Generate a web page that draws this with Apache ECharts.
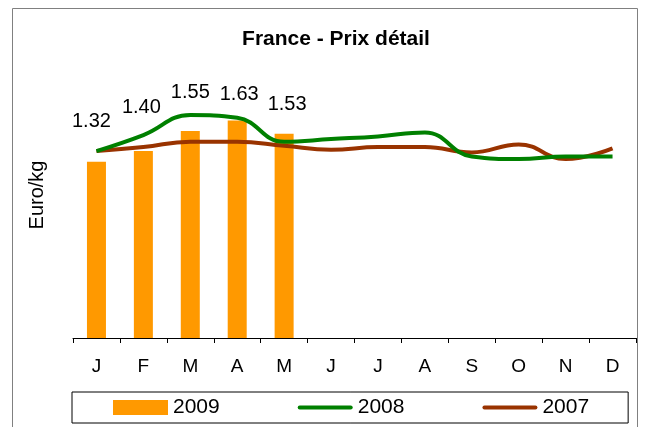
<!DOCTYPE html>
<html>
<head>
<meta charset="utf-8">
<script src="https://cdn.jsdelivr.net/npm/echarts@6/dist/echarts.min.js"></script>
<style>
  html, body { margin: 0; padding: 0; background: #fff; }
  #chart { width: 646px; height: 427px; }
</style>
</head>
<body>
<div id="chart"></div>
<script>
// mois
var months = ['J', 'F', 'M', 'A', 'M', 'J', 'J', 'A', 'S', 'O', 'N', 'D']

// prix détail, euro/kg
var prix2009 = [1.32, 1.40, 1.55, 1.63, 1.53]
var prix2008 = [1.40, 1.52, 1.67, 1.65, 1.47, 1.49, 1.51, 1.54, 1.36, 1.34, 1.36, 1.36]
var prix2007 = [1.40, 1.43, 1.47, 1.47, 1.44, 1.41, 1.43, 1.43, 1.39, 1.45, 1.34, 1.42]

// décalage des étiquettes (placées à la main dans l'original)
var labelNudge = [[-5, -30], [-2, -34], [0, -29], [2, -16], [3, -19]]

var font = 'Liberation Sans, Arial, sans-serif'
// petit trait arrondi pour la légende des courbes
var lineIcon = 'path://M2,0 H53 A2,2 0 0 1 53,4 H2 A2,2 0 0 1 2,0 Z'

var chart = echarts.init(document.getElementById('chart'), null, { renderer: 'canvas' })

chart.setOption({
  animation: false,
  title: {
    text: 'France - Prix détail',
    left: 331,
    top: 24,
    textAlign: 'center',
    textStyle: { fontFamily: font, fontSize: 21, fontWeight: 'bold', color: '#000' }
  },
  graphic: [
    {
      type: 'rect',
      shape: { x: 12.5, y: 8.5, width: 625, height: 440 },
      style: { fill: null, stroke: '#808080', lineWidth: 1 },
      silent: true
    },
    {
      type: 'text',
      x: 37,
      y: 195,
      rotation: Math.PI / 2,
      style: {
        text: 'Euro/kg',
        fontFamily: font,
        fontSize: 20,
        fill: '#000',
        textAlign: 'center',
        textVerticalAlign: 'middle'
      }
    }
  ],
  legend: {
    left: 72,
    top: 392,
    itemGap: 78,
    itemWidth: 55,
    itemHeight: 15,
    padding: [5, 39, 5, 41],
    borderColor: '#000',
    borderWidth: 1,
    textStyle: { fontFamily: font, fontSize: 21, color: '#000' },
    data: [
      { name: '2009', icon: 'rect' },
      { name: '2008', icon: lineIcon },
      { name: '2007', icon: lineIcon }
    ]
  },
  grid: { left: 73, right: 10, top: 71, bottom: 89 },
  xAxis: {
    type: 'category',
    data: months,
    boundaryGap: true,
    axisLine: { lineStyle: { color: '#000', width: 1 } },
    axisTick: { show: true, length: 5, lineStyle: { color: '#000' } },
    axisLabel: { fontFamily: font, fontSize: 19, color: '#000', margin: 19 }
  },
  yAxis: {
    type: 'value',
    min: 0,
    max: 2,
    axisLine: { show: false },
    axisTick: { show: false },
    axisLabel: { show: false },
    splitLine: { show: false }
  },
  series: [
    {
      name: '2009',
      type: 'bar',
      barWidth: 19,
      itemStyle: { color: '#FF9900' },
      data: prix2009.map(function (v, i) {
        return {
          value: v,
          label: {
            show: true,
            position: 'top',
            distance: 0,
            offset: labelNudge[i],
            formatter: function (p) { return p.value.toFixed(2) },
            fontFamily: font,
            fontSize: 20,
            color: '#000'
          }
        }
      }),
      z: 1
    },
    {
      name: '2008',
      type: 'line',
      data: prix2008,
      smooth: 0.45,
      symbol: 'none',
      lineStyle: { color: '#008000', width: 4 },
      itemStyle: { color: '#008000' },
      z: 3
    },
    {
      name: '2007',
      type: 'line',
      data: prix2007,
      smooth: 0.45,
      symbol: 'none',
      lineStyle: { color: '#993300', width: 4 },
      itemStyle: { color: '#993300' },
      z: 2
    }
  ]
})
</script>
</body>
</html>
